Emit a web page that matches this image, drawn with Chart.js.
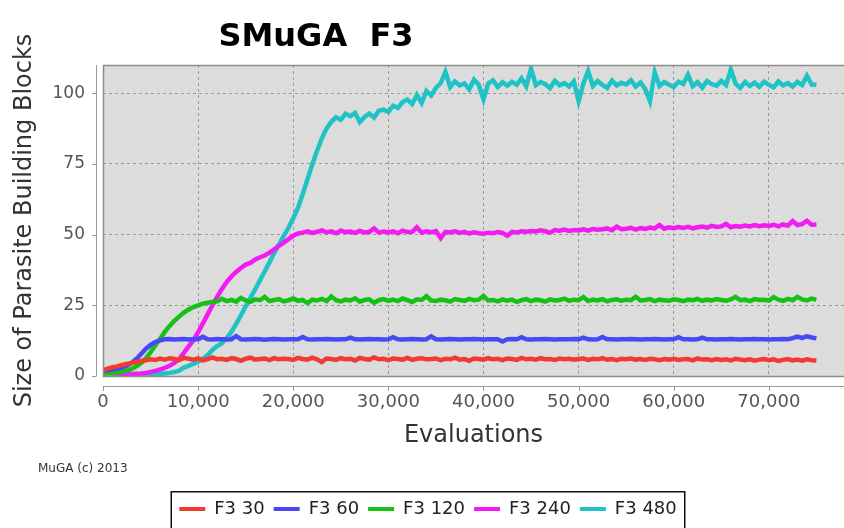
<!DOCTYPE html>
<html>
<head>
<meta charset="utf-8">
<script src="https://cdn.jsdelivr.net/npm/chart.js@4/dist/chart.umd.min.js"></script>
<style>
  html, body { margin: 0; padding: 0; background: #ffffff; }
  #wrap { width: 844px; height: 528px; position: relative; }
</style>
</head>
<body>
<div id="wrap"><canvas id="chart" width="844" height="528"></canvas></div>
<script>
// Evaluations (x)
const evaluations = [
  0, 500, 1000, 1500, 2000, 2500, 3000, 3500, 4000, 4500,
  5000, 5500, 6000, 6500, 7000, 7500, 8000, 8500, 9000, 9500,
  10000, 10500, 11000, 11500, 12000, 12500, 13000, 13500, 14000, 14500,
  15000, 15500, 16000, 16500, 17000, 17500, 18000, 18500, 19000, 19500,
  20000, 20500, 21000, 21500, 22000, 22500, 23000, 23500, 24000, 24500,
  25000, 25500, 26000, 26500, 27000, 27500, 28000, 28500, 29000, 29500,
  30000, 30500, 31000, 31500, 32000, 32500, 33000, 33500, 34000, 34500,
  35000, 35500, 36000, 36500, 37000, 37500, 38000, 38500, 39000, 39500,
  40000, 40500, 41000, 41500, 42000, 42500, 43000, 43500, 44000, 44500,
  45000, 45500, 46000, 46500, 47000, 47500, 48000, 48500, 49000, 49500,
  50000, 50500, 51000, 51500, 52000, 52500, 53000, 53500, 54000, 54500,
  55000, 55500, 56000, 56500, 57000, 57500, 58000, 58500, 59000, 59500,
  60000, 60500, 61000, 61500, 62000, 62500, 63000, 63500, 64000, 64500,
  65000, 65500, 66000, 66500, 67000, 67500, 68000, 68500, 69000, 69500,
  70000, 70500, 71000, 71500, 72000, 72500, 73000, 73500, 74000, 74500,
  75000
];

// Size of parasite building blocks per series
const f3_30 = [
  2.0, 2.6, 3.1, 3.4, 3.9, 4.3, 4.6, 5.0, 5.3, 5.6,
  5.9, 5.7, 6.2, 5.8, 6.3, 6.0, 5.6, 6.4, 6.1, 5.8,
  6.2, 5.5, 6.0, 6.6, 5.9, 6.1, 5.7, 6.3, 6.0, 5.4,
  6.1, 6.5, 5.8, 6.0, 6.2, 5.6, 6.3, 5.9, 6.1, 6.0,
  5.7, 6.4, 6.0, 5.8, 6.5, 5.9, 4.9, 6.2, 6.0, 5.7,
  6.3, 5.9, 6.1, 5.5, 6.4, 6.0, 5.8, 6.6, 5.9, 6.1,
  5.6, 6.2, 6.0, 5.8, 6.4, 5.7, 6.1, 6.3, 5.9, 6.0,
  6.2, 5.6, 6.1, 5.9, 6.5, 5.8, 6.0, 5.4, 6.2, 6.0,
  5.8, 6.3, 5.9, 6.1, 5.6, 6.2, 6.0, 5.7, 6.4, 5.9,
  6.1, 5.8, 6.3, 5.9, 6.0, 5.7, 6.2, 5.9, 6.1, 5.8,
  6.0, 6.2, 5.7, 6.1, 5.9, 6.3, 5.8, 6.0, 5.6, 6.1,
  5.9, 6.2, 5.8, 6.0, 5.7, 6.1, 5.9, 5.6, 6.0, 5.8,
  6.1, 5.7, 5.9, 6.0, 5.5, 6.2, 5.8, 5.9, 5.6, 6.0,
  5.7, 5.9, 5.5, 6.1, 5.8, 5.6, 5.9, 5.4, 5.8, 6.0,
  5.6, 5.9, 5.3, 5.7, 6.0, 5.5, 5.8, 5.4, 5.9, 5.6,
  5.5
];
const f3_60 = [
  1.8, 2.0, 2.3, 2.6, 3.0, 3.6, 4.6, 6.0, 7.8, 9.6,
  11.0, 12.0, 12.6, 13.0, 13.1, 12.9, 13.0, 13.1, 12.9, 13.0,
  13.0, 13.9, 13.0, 12.9, 13.1, 13.0, 12.9, 13.0, 14.1, 13.0,
  12.9, 13.0, 13.1, 13.0, 12.8, 13.0, 13.1, 13.0, 12.9, 13.0,
  13.0, 13.0, 13.8, 13.0, 12.9, 13.0, 13.0, 13.1, 13.0, 12.9,
  13.0, 13.0, 13.6, 13.0, 12.9, 13.0, 13.1, 13.0, 13.0, 12.9,
  13.0, 13.7, 13.0, 12.9, 13.0, 13.1, 13.0, 12.9, 13.0, 14.0,
  13.0, 12.9, 13.0, 13.1, 13.0, 12.9, 13.0, 13.0, 13.1, 13.0,
  12.9, 13.0, 13.0, 13.0, 12.2, 13.0, 13.1, 13.0, 13.7, 13.0,
  12.9, 13.0, 13.0, 13.1, 13.0, 12.9, 13.0, 13.0, 13.0, 13.1,
  13.0, 13.6, 13.0, 12.9, 13.0, 13.8, 13.0, 13.0, 12.9, 13.0,
  13.0, 13.1, 13.0, 12.9, 13.0, 13.0, 13.1, 13.0, 12.9, 13.0,
  13.0, 13.7, 13.0, 13.0, 12.9, 13.0, 13.6, 13.0, 13.0, 12.9,
  13.0, 13.0, 13.1, 13.0, 12.9, 13.0, 13.0, 13.1, 13.0, 13.0,
  12.9, 13.0, 13.0, 13.1, 13.0, 13.4, 13.9, 13.5, 14.0, 13.6,
  13.3
];
const f3_120 = [
  0.8, 0.9, 1.0, 1.2, 1.5, 1.9, 2.5, 3.4, 4.6, 6.2,
  8.4, 10.8, 13.2, 15.6, 17.7, 19.5, 21.0, 22.4, 23.5, 24.4,
  25.0, 25.6, 25.9, 26.2, 26.4, 27.3, 26.5, 26.9, 26.3, 27.6,
  26.7, 26.2, 27.1, 26.8, 28.0, 26.5, 26.9, 27.2, 26.4, 26.8,
  27.4, 26.6, 26.9, 25.8, 27.0, 26.7, 27.3, 26.5, 28.1, 26.8,
  26.4, 27.0, 26.7, 27.5, 26.3, 26.9, 27.1, 25.9, 26.8, 27.2,
  26.6, 27.0, 26.5, 27.4, 26.8, 26.2, 27.1, 26.9, 28.2, 26.7,
  26.5, 27.0, 26.8, 26.3, 27.2, 26.9, 26.6, 27.3, 26.8, 27.0,
  28.3, 26.7, 26.9, 26.4, 27.1, 26.6, 27.0, 26.2, 26.8, 27.2,
  26.5, 27.0, 26.8, 26.3, 27.1, 26.7, 26.9, 27.4, 26.6, 27.0,
  26.8, 27.9, 26.5, 27.0, 26.7, 27.2, 26.4, 26.9, 27.1, 26.6,
  27.0, 26.8, 28.0, 26.7, 26.9, 27.2, 26.5, 27.0, 26.8, 26.6,
  27.1, 26.9, 26.5, 27.0, 26.8, 27.3, 26.6, 27.0, 26.7, 27.2,
  26.9, 26.6, 27.1, 28.0, 26.8, 27.0, 26.5, 27.2, 26.9, 27.0,
  26.7, 27.9, 27.0, 26.6, 27.3, 26.8, 28.0, 27.1, 26.7, 27.4,
  27.0
];
const f3_240 = [
  1.4, 1.2, 1.0, 0.9, 0.8, 0.7, 0.7, 0.8, 0.9, 1.1,
  1.4, 1.8, 2.3, 2.9, 3.6, 4.6, 6.0, 8.2, 10.5, 12.6,
  15.5, 18.6, 21.8, 25.0, 28.0, 30.8, 33.2, 35.2, 36.8, 38.2,
  39.4, 40.0, 41.2, 42.0, 42.6, 43.6, 44.8, 46.0, 47.2, 48.4,
  49.6, 50.4, 50.7, 51.2, 50.6, 51.0, 51.5, 50.8, 51.2, 50.5,
  51.4, 50.9, 51.1, 50.6, 51.3, 50.8, 51.0, 52.2, 50.7, 51.1,
  50.8, 51.2, 50.5, 51.4, 50.9, 51.0, 52.6, 50.7, 51.2, 50.9,
  51.3, 48.8, 51.0, 50.8, 51.2, 50.6, 51.0, 50.4, 50.8, 50.5,
  50.3, 50.7, 50.5, 50.9, 50.6, 49.6, 51.0, 50.8, 51.2, 51.0,
  51.3, 51.1, 51.5, 51.2, 50.7, 51.6, 51.4, 51.8, 51.3, 51.6,
  51.5, 51.9, 51.4, 52.0, 51.7, 51.9, 52.2, 51.6, 52.8, 51.9,
  52.1, 52.4, 51.8, 52.3, 52.0, 52.5, 52.2, 53.4, 52.1, 52.6,
  52.3, 52.7, 52.4, 52.8, 52.2, 52.6, 52.9, 52.5, 53.1, 52.7,
  52.9, 53.8, 52.6, 53.0, 52.8, 53.2, 52.9, 53.4, 53.0, 53.3,
  53.1, 53.5, 52.9, 53.6, 53.2, 54.8, 53.4, 53.7, 54.9, 53.5,
  53.6
];
const f3_480 = [
  1.6, 1.4, 1.2, 1.0, 0.8, 0.7, 0.6, 0.5, 0.5, 0.5,
  0.5, 0.6, 0.7, 0.9, 1.1, 1.4, 1.9, 3.0, 3.6, 4.3,
  5.0, 6.1, 7.4, 9.2, 10.6, 11.6, 13.4, 15.6, 18.4, 21.5,
  24.6, 27.6, 30.7, 33.8, 37.0, 40.2, 43.5, 46.6, 49.6, 52.4,
  55.8, 59.5, 64.4, 69.6, 74.8, 79.6, 84.0, 87.6, 89.9, 91.5,
  90.6, 92.8, 91.9, 93.0, 89.8, 91.6, 92.8, 91.4, 93.8, 94.2,
  93.4, 95.6, 94.8, 96.9, 97.8, 96.2, 99.4, 96.5, 100.8, 99.2,
  101.9, 103.6, 107.6, 102.2, 104.2, 102.8, 103.5, 101.4, 104.8, 103.0,
  97.8, 103.5, 104.6, 102.2, 103.9, 102.7, 104.1, 103.0, 105.3, 102.5,
  108.8, 102.9, 104.0, 103.2, 101.8, 104.4, 102.8, 103.6, 102.4, 104.2,
  97.2, 103.5, 107.9, 102.6, 104.3, 103.0, 101.9, 104.5, 102.8, 103.7,
  103.1, 104.6, 102.4, 103.8, 101.5, 97.2, 107.4, 102.6, 104.0, 103.0,
  102.2, 104.1, 103.3, 106.6, 102.5, 103.9, 102.0, 104.3, 103.2, 102.7,
  104.4, 102.9, 108.4, 103.4, 101.9, 104.0, 102.6, 103.8, 102.3, 104.1,
  103.0, 102.1, 104.2, 102.8, 103.6, 102.4, 104.0, 102.9, 106.2, 103.1,
  103.0
];

const seriesNames = ['F3 30', 'F3 60', 'F3 120', 'F3 240', 'F3 480'];
const seriesColors = ['#f23a30', '#4848f4', '#16c016', '#f21cf2', '#1fc3c6'];
const xTicks = [0, 10000, 20000, 30000, 40000, 50000, 60000, 70000];
const yTicks = [0, 25, 50, 75, 100];

const allSeries = [f3_30, f3_60, f3_120, f3_240, f3_480];

// fundo + moldura + eixos deslocados (estilo JFreeChart)
const plotDecor = {
    id: 'plotDecor',
    afterUpdate(chart) {
        // empurra a legenda um pouco para a direita, como no original
        const lg = chart.legend;
        if (!lg || !lg.legendHitBoxes) return;
        lg.left += 6;
        lg.right += 6;
        lg.legendHitBoxes.forEach(h => { h.left += 6; });
    },
    beforeDraw(chart) {
        const { ctx, chartArea: a } = chart;
        ctx.save();
        ctx.fillStyle = '#dcdcdc';
        ctx.fillRect(a.left, a.top, a.right - a.left, a.bottom - a.top);
        ctx.restore();
    },
    afterDraw(chart) {
        const { ctx, chartArea: a, scales } = chart;
        ctx.save();
        // moldura
        ctx.strokeStyle = '#8c8c8c';
        ctx.lineWidth = 1.5;
        ctx.strokeRect(a.left + 0.5, a.top + 0.5, a.right - a.left + 4, a.bottom - a.top);
        // eixo y
        ctx.strokeStyle = '#9a9a9a';
        ctx.lineWidth = 1;
        ctx.beginPath();
        ctx.moveTo(96.5, a.top);
        ctx.lineTo(96.5, a.bottom);
        yTicks.forEach(v => {
            const y = Math.round(scales.y.getPixelForValue(v)) + 0.5;
            ctx.moveTo(92, y);
            ctx.lineTo(96.5, y);
        });
        // eixo x
        ctx.moveTo(a.left, 386.5);
        ctx.lineTo(a.right, 386.5);
        xTicks.forEach(v => {
            const x = Math.round(scales.x.getPixelForValue(v)) + 0.5;
            ctx.moveTo(x, 386.5);
            ctx.lineTo(x, 391);
        });
        ctx.stroke();

        // titulo
        ctx.fillStyle = '#000000';
        ctx.font = 'bold 32px "DejaVu Sans"';
        ctx.textAlign = 'center';
        ctx.textBaseline = 'alphabetic';
        ctx.fillText('SMuGA  F3', 316, 46);

        // credito
        ctx.fillStyle = '#333333';
        ctx.font = '12px "DejaVu Sans"';
        ctx.textAlign = 'left';
        ctx.textBaseline = 'middle';
        ctx.fillText('MuGA (c) 2013', 38, 469);

        // caixa da legenda
        const lg = chart.legend;
        if (lg && lg.legendHitBoxes && lg.legendHitBoxes.length) {
            const hb = lg.legendHitBoxes;
            const l = Math.min(...hb.map(h => h.left)) - 8;
            const r = Math.max(...hb.map(h => h.left + h.width)) + 8;
            ctx.strokeStyle = '#111111';
            ctx.lineWidth = 1.5;
            ctx.strokeRect(l, lg.top + 0.75, r - l, 60);
        }
        ctx.restore();
    }
};

const ctx = document.getElementById('chart').getContext('2d');
const myChart = new Chart(ctx, {
    type: 'line',
    data: {
        datasets: seriesNames.map((name, i) => ({
            label: name,
            data: evaluations.map((e, j) => ({ x: e, y: allSeries[i][j] })),
            borderColor: seriesColors[i],
            backgroundColor: seriesColors[i],
            borderWidth: 4.5,
            pointRadius: 0,
            tension: 0
        }))
    },
    options: {
        responsive: false,
        animation: false,
        layout: { padding: { top: 65, left: 0, right: 0, bottom: 0 } },
        scales: {
            x: {
                type: 'linear',
                min: 0,
                max: 77900,
                afterBuildTicks: s => { s.ticks = xTicks.map(v => ({ value: v })); },
                afterFit: s => { s.height = 115; },
                grid: { color: '#9a9a9a', drawTicks: false, lineWidth: 1 },
                border: { display: false, dash: [3, 3] },
                ticks: {
                    padding: 16,
                    color: '#555555',
                    font: { family: 'DejaVu Sans', size: 18 },
                    maxRotation: 0,
                    callback: v => v.toLocaleString('en-US')
                },
                title: {
                    display: true,
                    text: 'Evaluations',
                    color: '#333333',
                    font: { family: 'DejaVu Sans', size: 24 },
                    padding: { top: 0, bottom: 41 }
                }
            },
            y: {
                min: 0,
                max: 110,
                afterBuildTicks: s => { s.ticks = yTicks.map(v => ({ value: v })); },
                afterFit: s => { s.width = 103; },
                grid: { color: '#9a9a9a', drawTicks: false, lineWidth: 1 },
                border: { display: false, dash: [3, 3] },
                ticks: {
                    padding: 18,
                    color: '#555555',
                    font: { family: 'DejaVu Sans', size: 17 }
                },
                title: {
                    display: true,
                    text: 'Size of Parasite Building Blocks',
                    color: '#333333',
                    font: { family: 'DejaVu Sans', size: 24 },
                    padding: { top: 10, bottom: 0 }
                }
            }
        },
        plugins: {
            legend: {
                position: 'bottom',
                labels: {
                    boxWidth: 26,
                    boxHeight: 4,
                    padding: 9,
                    color: '#222222',
                    font: { family: 'DejaVu Sans', size: 18 },
                    generateLabels(chart) {
                        const items = Chart.defaults.plugins.legend.labels.generateLabels(chart);
                        items.forEach(it => { it.lineWidth = 0; it.fillStyle = it.strokeStyle; });
                        return items;
                    }
                }
            },
            tooltip: { enabled: false }
        }
    },
    plugins: [plotDecor]
});
</script>
</body>
</html>
